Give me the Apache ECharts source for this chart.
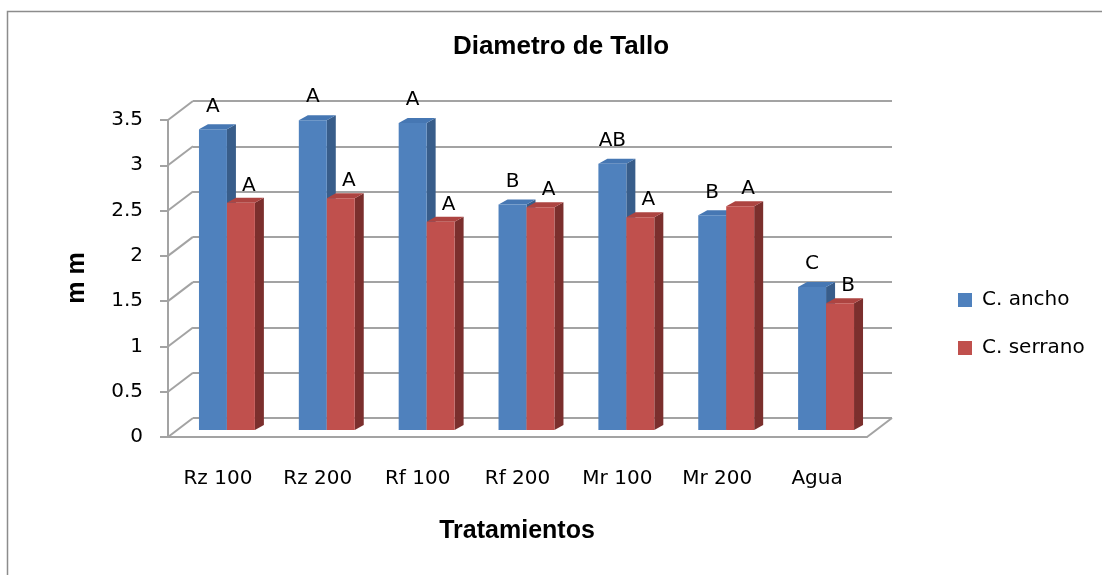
<!DOCTYPE html>
<html>
<head>
<meta charset="utf-8">
<script src="https://cdn.jsdelivr.net/npm/echarts@6/dist/echarts.min.js"></script>
<style>html,body{margin:0;padding:0;background:#fff}#c{width:1102px;height:575px}</style>
</head>
<body>
<div id="c"></div>
<script>
// ---- data ----
const categories = ['Rz 100', 'Rz 200', 'Rf 100', 'Rf 200', 'Mr 100', 'Mr 200', 'Agua'];
const anchoValues = [3.32, 3.42, 3.39, 2.49, 2.94, 2.37, 1.58];
const serranoValues = [2.51, 2.56, 2.30, 2.46, 2.35, 2.47, 1.40];
const anchoLetters = ['A', 'A', 'A', 'B', 'AB', 'B', 'C'];
const serranoLetters = ['A', 'A', 'A', 'A', 'A', 'A', 'B'];
const yTicks = [0, 0.5, 1, 1.5, 2, 2.5, 3, 3.5];
const seriesNames = ['C. ancho', 'C. serrano'];

// ---- layout / style ----
const W = 1102, H = 575;
const FRONT = {left: 168, top: 120, right: 867, bottom: 437};
const DEPTH = {dx: 25, dy: 19};          // front -> back wall offset
const BARPLANE = {dx: 9, dy: 7};          // front -> plane of bar faces
const BAR_D = {dx: 9, dy: 5};            // bar depth
const BAR_FRAC = 0.28;
const GRID_COLOR = '#a3a3a3';
const TXT = 'DejaVu Sans';
const colors = {
  blue: {front: '#4f81bd', side: '#385d8a', top: '#4677b3'},
  red: {front: '#c0504d', side: '#7b2f2d', top: '#ad4441'}
};

function gridFor(off) {
  return {
    left: FRONT.left + off.dx, right: W - FRONT.right - off.dx,
    top: FRONT.top - off.dy, bottom: H - FRONT.bottom + off.dy,
    containLabel: false
  };
}

function barRenderer(isFirst, pal, letters, labelGap, labelDx) {
  return function (params, api) {
    const i = api.value(0), v = api.value(1);
    const base = api.coord([i, 0]);
    const top = api.coord([i, v]);
    const cw = api.size([1, 0])[0];
    const w = cw * BAR_FRAC;
    const x0 = isFirst ? base[0] - w : base[0];
    const x1 = x0 + w;
    const dx = BAR_D.dx, dy = BAR_D.dy;
    return {
      type: 'group',
      children: [
        {type: 'polygon', shape: {points: [[x1, top[1]], [x1 + dx, top[1] - dy], [x1 + dx, base[1] - dy], [x1, base[1]]]},
          style: {fill: pal.side}},
        {type: 'polygon', shape: {points: [[x0, top[1]], [x0 + dx, top[1] - dy], [x1 + dx, top[1] - dy], [x1, top[1]]]},
          style: {fill: pal.top}},
        {type: 'rect', shape: {x: x0, y: top[1], width: w, height: base[1] - top[1]},
          style: {fill: pal.front}},
        {type: 'text', x: x0 + w / 2 + labelDx, y: top[1] - labelGap,
          style: {text: letters[params.dataIndex], fill: '#000', font: '20px "' + TXT + '"',
            align: 'center', verticalAlign: 'middle'}}
      ]
    };
  };
}

const chart = echarts.init(document.getElementById('c'), null, {renderer: 'canvas'});
const backGrid = gridFor(DEPTH);
const barGrid = gridFor(BARPLANE);
const frontGrid = gridFor({dx: 0, dy: 0});

const option = {
  backgroundColor: '#fff',
  animation: false,
  title: {
    text: 'Diametro de Tallo', left: 561, top: 34, textAlign: 'center', padding: 0,
    textStyle: {fontFamily: 'Liberation Sans', fontWeight: 'bold', fontSize: 26, color: '#000'}
  },
  legend: {
    orient: 'vertical', left: 958, top: 290, padding: 0, itemWidth: 14, itemHeight: 14, itemGap: 28,
    icon: 'rect', data: seriesNames,
    textStyle: {fontFamily: TXT, fontSize: 20, color: '#000', lineHeight: 20, padding: [0, 0, 0, 5]}
  },
  grid: [backGrid, frontGrid, barGrid],
  xAxis: [
    {gridIndex: 0, type: 'value', min: 0, max: 1, show: false},
    {gridIndex: 1, type: 'category', data: categories,
      axisLine: {show: true, lineStyle: {color: GRID_COLOR, width: 2}},
      axisTick: {show: false},
      axisLabel: {margin: 32, fontFamily: TXT, fontSize: 20, color: '#000'}},
    {gridIndex: 2, type: 'category', data: categories, show: false}
  ],
  yAxis: [
    {gridIndex: 0, type: 'value', min: 0, max: 3.5, interval: 0.5,
      axisLine: {show: false}, axisTick: {show: false}, axisLabel: {show: false},
      splitLine: {show: true, lineStyle: {color: GRID_COLOR, width: 2}}},
    {gridIndex: 1, type: 'value', min: 0, max: 3.5, interval: 0.5,
      axisLine: {show: true, lineStyle: {color: GRID_COLOR, width: 2}},
      axisTick: {show: true, length: 8, lineStyle: {color: GRID_COLOR, width: 2}},
      axisLabel: {margin: 25, fontFamily: TXT, fontSize: 20, color: '#000'},
      splitLine: {show: false}},
    {gridIndex: 2, type: 'value', min: 0, max: 3.5, show: false}
  ],
  series: [
    // diagonals from front axis ticks to back wall
    {type: 'custom', xAxisIndex: 0, yAxisIndex: 0, silent: true, z: 1,
      data: yTicks.map(v => [0, v]),
      renderItem: function (params, api) {
        const p = api.coord([0, api.value(1)]);
        return {type: 'line', shape: {x1: p[0] - DEPTH.dx, y1: p[1] + DEPTH.dy, x2: p[0], y2: p[1]},
          style: {stroke: GRID_COLOR, lineWidth: 2}};
      }},
    // floor right edge
    {type: 'custom', xAxisIndex: 0, yAxisIndex: 0, silent: true, z: 1,
      data: [[1, 0]],
      renderItem: function (params, api) {
        const p = api.coord([1, 0]);
        return {type: 'line', shape: {x1: p[0] - DEPTH.dx, y1: p[1] + DEPTH.dy, x2: p[0], y2: p[1]},
          style: {stroke: GRID_COLOR, lineWidth: 2}};
      }},
    {name: seriesNames[0], type: 'custom', xAxisIndex: 2, yAxisIndex: 2, z: 3,
      itemStyle: {color: colors.blue.front},
      data: anchoValues.map((v, i) => [i, v]),
      renderItem: barRenderer(true, colors.blue, anchoLetters, 23, 0)},
    {name: seriesNames[1], type: 'custom', xAxisIndex: 2, yAxisIndex: 2, z: 4,
      itemStyle: {color: colors.red.front},
      data: serranoValues.map((v, i) => [i, v]),
      renderItem: barRenderer(false, colors.red, serranoLetters, 17, 8)}
  ],
  graphic: [
    {type: 'rect', silent: true, shape: {x: 7.5, y: 11.5, width: 1400, height: 900},
      style: {fill: 'none', stroke: '#8c8c8c', lineWidth: 1.5}},
    {type: 'text', x: 77, y: 278, rotation: Math.PI / 2,
      style: {text: 'm m', font: 'bold 25px "Liberation Sans"', fill: '#000', align: 'center', verticalAlign: 'middle'}},
    {type: 'text', x: 517, y: 531,
      style: {text: 'Tratamientos', font: 'bold 25px "Liberation Sans"', fill: '#000', align: 'center', verticalAlign: 'middle'}}
  ]
};
chart.setOption(option);
</script>
</body>
</html>
